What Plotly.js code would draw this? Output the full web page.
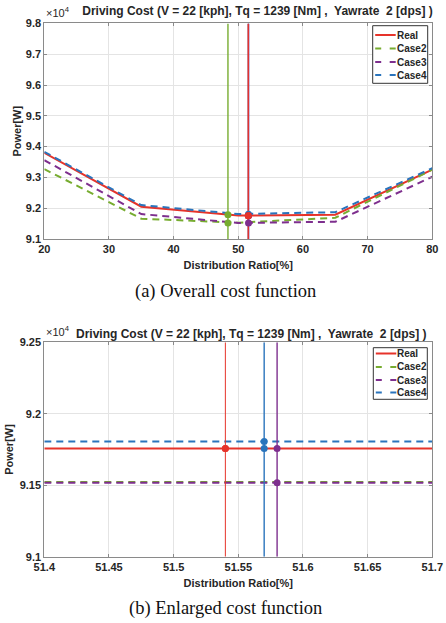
<!DOCTYPE html>
<html><head><meta charset="utf-8">
<script src="https://cdn.plot.ly/plotly-3.0.1.min.js"></script>
<style>html,body{margin:0;padding:0;background:#fff;} #chart{width:446px;height:623px;}</style>
</head><body><div id="chart"></div>
<script>
// ---- data (power in units of 10^4 W) ----
const seriesNames = ['Real', 'Case2', 'Case3', 'Case4'];
const ratioPts = [20, 35, 50, 65, 80];
const realCost  = [9.380, 9.205, 9.176, 9.179, 9.325];
const case2Cost = [9.327, 9.166, 9.153, 9.169, 9.325];
const case3Cost = [9.356, 9.181, 9.152, 9.156, 9.302];
const case4Cost = [9.383, 9.210, 9.181, 9.187, 9.330];

// optimum distribution ratio of each series, the series' own cost there and the real cost there
const optRatio    = [51.54, 48.40, 51.58, 51.57];
const optOwnCost  = [9.1757, 9.1522, 9.1518, 9.1806];
const optRealCost = [9.1757, 9.1785, 9.1757, 9.1757];

// enlarged view
const enlRatio = [51.4, 51.7];
const enlReal  = [9.1757, 9.1757];
const enlCase2 = [9.1522, 9.1522];
const enlCase3 = [9.1518, 9.1518];
const enlCase4 = [9.1806, 9.1806];

const topXTicks = [20, 30, 40, 50, 60, 70, 80];
const topYTicks = [9.1, 9.2, 9.3, 9.4, 9.5, 9.6, 9.7, 9.8];
const enlXTicks = [51.4, 51.45, 51.5, 51.55, 51.6, 51.65, 51.7];
const enlXLabels = ['51.4', '51.45', '51.5', '51.55', '51.6', '51.65', '51.7'];
const enlYTicks = [9.1, 9.15, 9.2, 9.25];
const enlYLabels = ['9.1', '9.15', '9.2', '9.25'];

const titleText = 'Driving Cost (V = 22 [kph], Tq = 1239 [Nm] ,\u00a0 Yawrate\u00a0 2 [dps] )';
const captionA = '(a) Overall cost function';
const captionB = '(b) Enlarged cost function';

// ---- styles ----
const colors = ['#E6332A', '#77AC30', '#7E2F8E', '#2A74BC'];
const dashes = ['solid', '7px,5px', '7px,5px', '7px,5px'];
const W = 446, H = 623;
const FONT = 'Liberation Sans, Arial, sans-serif';
const xDom = [44.3 / W, 432.3 / W];
const y1Dom = [(H - 239) / H, (H - 23.4) / H];
const y2Dom = [(H - 556.7) / H, (H - 342.3) / H];
const px = v => v / W, py = v => 1 - v / H;

const topSeries = [realCost, case2Cost, case3Cost, case4Cost];
const enlSeries = [enlReal, enlCase2, enlCase3, enlCase4];

const traces = [];
topSeries.forEach((ys, i) => traces.push({
  type: 'scatter', mode: 'lines', x: ratioPts, y: ys, name: seriesNames[i],
  xaxis: 'x', yaxis: 'y', showlegend: false,
  line: {color: colors[i], width: 2, dash: dashes[i]}
}));
enlSeries.forEach((ys, i) => traces.push({
  type: 'scatter', mode: 'lines', x: enlRatio, y: ys, name: seriesNames[i],
  xaxis: 'x2', yaxis: 'y2', showlegend: false,
  line: {color: colors[i], width: 2, dash: dashes[i]}
}));
const vOrder = [3, 2, 1, 0];
[['x', 'y', [9.1, 9.8]], ['x2', 'y2', [9.1, 9.25]]].forEach(([xa, ya, yr]) => {
  vOrder.forEach(i => traces.push({
    type: 'scatter', mode: 'lines', x: [optRatio[i], optRatio[i]], y: yr,
    xaxis: xa, yaxis: ya, showlegend: false, hoverinfo: 'skip',
    line: {color: colors[i], width: (xa === 'x2' && i === 0) ? 1 : 1.4}
  }));
  vOrder.forEach(i => traces.push({
    type: 'scatter', mode: 'markers', x: [optRatio[i], optRatio[i]], y: [optOwnCost[i], optRealCost[i]],
    xaxis: xa, yaxis: ya, showlegend: false, cliponaxis: true,
    marker: {color: colors[i], size: 7, line: {width: 0}}
  }));
});

const tickFont = {family: FONT, size: 11, color: '#262626', weight: 'bold'};
const labelFont = {family: FONT, size: 11, color: '#262626', weight: 'bold'};
const titleFont = {family: FONT, size: 12, color: '#262626', weight: 'bold'};
const axBase = {
  showline: true, linecolor: '#8a8a8a', linewidth: 1, mirror: 'allticks',
  ticks: 'inside', ticklen: 3, tickcolor: '#8a8a8a',
  showgrid: true, gridcolor: '#e4e4e4', gridwidth: 1, zeroline: false,
  tickfont: tickFont, domain: xDom
};

// ---- MATLAB-style legend boxes (drawn with shapes + annotations) ----
const shapes = [];
const annotations = [];
function addLegend(left, top, right, bottom, rowYs) {
  shapes.push({type: 'rect', xref: 'paper', yref: 'paper', x0: px(left), x1: px(right), y0: py(bottom), y1: py(top),
    fillcolor: '#ffffff', line: {color: '#333333', width: 1}, layer: 'above'});
  seriesNames.forEach((nm, i) => {
    shapes.push({type: 'line', xref: 'paper', yref: 'paper', x0: px(left + 2.5), x1: px(left + 23), y0: py(rowYs[i]), y1: py(rowYs[i]),
      line: {color: colors[i], width: 2, dash: i === 0 ? 'solid' : '6px,8.5px'}, layer: 'above'});
    annotations.push({text: nm, xref: 'paper', yref: 'paper', x: px(left + 23), y: py(rowYs[i]), xanchor: 'left', yanchor: 'middle',
      showarrow: false, font: {family: FONT, size: 10, color: '#262626', weight: 'bold'}, xshift: -1});
  });
}
addLegend(372.7, 25.7, 427.7, 83.3, [35, 48.5, 62, 75]);
addLegend(373.3, 347.7, 427.3, 399.3, [353.5, 367, 380, 392.5]);

annotations.push(
  {text: titleText, xref: 'paper', yref: 'paper', x: px(252), y: py(334), xanchor: 'center', yanchor: 'middle',
   showarrow: false, font: titleFont},
  {text: '\u00d710<sup>4</sup>', xref: 'paper', yref: 'paper', x: px(44), y: py(21), xanchor: 'left', yanchor: 'bottom',
   showarrow: false, font: {family: FONT, size: 11, color: '#262626'}},
  {text: '\u00d710<sup>4</sup>', xref: 'paper', yref: 'paper', x: px(44), y: py(340), xanchor: 'left', yanchor: 'bottom',
   showarrow: false, font: {family: FONT, size: 11, color: '#262626'}},
  {text: captionA, xref: 'paper', yref: 'paper', x: px(225), y: py(291), xanchor: 'center', yanchor: 'middle',
   showarrow: false, font: {family: 'Liberation Serif, Times New Roman, serif', size: 18.5, color: '#111111'}},
  {text: captionB, xref: 'paper', yref: 'paper', x: px(225), y: py(608), xanchor: 'center', yanchor: 'middle',
   showarrow: false, font: {family: 'Liberation Serif, Times New Roman, serif', size: 18.5, color: '#111111'}}
);

const layout = {
  width: W, height: H, margin: {l: 0, r: 0, t: 0, b: 0},
  paper_bgcolor: '#ffffff', plot_bgcolor: '#ffffff', showlegend: false,
  title: {text: titleText, font: titleFont, x: px(257.5), xanchor: 'center', xref: 'paper',
          y: py(11), yanchor: 'middle'},
  xaxis: Object.assign({}, axBase, {anchor: 'y', range: [20, 80], tickvals: topXTicks,
    title: {text: 'Distribution Ratio[%]', font: labelFont, standoff: 7}}),
  yaxis: Object.assign({}, axBase, {anchor: 'x', domain: y1Dom, range: [9.1, 9.8], tickvals: topYTicks,
    tickformat: '.1f', title: {text: 'Power[W]', font: labelFont, standoff: 1}}),
  xaxis2: Object.assign({}, axBase, {anchor: 'y2', range: [51.4, 51.7], tickvals: enlXTicks, ticktext: enlXLabels,
    title: {text: 'Distribution Ratio[%]', font: labelFont, standoff: 7}}),
  yaxis2: Object.assign({}, axBase, {anchor: 'x2', domain: y2Dom, range: [9.1, 9.25], tickvals: enlYTicks, ticktext: enlYLabels,
    title: {text: 'Power[W]', font: labelFont, standoff: 3}}),
  shapes: shapes,
  annotations: annotations
};

Plotly.newPlot('chart', traces, layout, {staticPlot: true, displayModeBar: false});
</script>
</body></html>
